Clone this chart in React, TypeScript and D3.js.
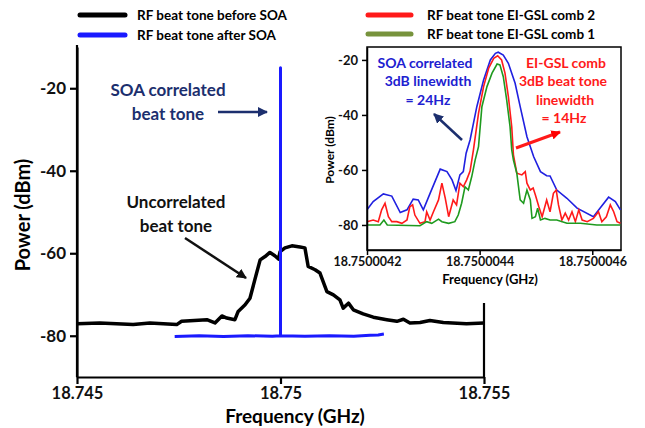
import React, { useEffect, useRef } from "react";
import * as d3 from "d3";

// main plot: frequency in GHz, power in dBm
const mainXTicks = [18.745, 18.75, 18.755];
const mainYTicks = [-20, -40, -60, -80];
const beforeSOA: [number, number][] = [
  [18.745, -77.1], [18.74556, -76.9], [18.74638, -77.3], [18.74679, -76.9],
  [18.74745, -77.3], [18.74757, -76.5], [18.74819, -76.1], [18.74839, -76.9],
  [18.74856, -75.2], [18.74868, -75.7], [18.74888, -76.1], [18.74896, -74.1],
  [18.74913, -72.5], [18.74925, -70.9], [18.74937, -66.4], [18.7495, -61.6],
  [18.74962, -60.8], [18.74974, -59.8], [18.74986, -60.6], [18.74995, -61.4],
  [18.74999, -59.6], [18.75011, -58.7], [18.75028, -58.2], [18.75048, -58.5],
  [18.7506, -58.7], [18.75068, -63.2], [18.75085, -64.0], [18.75097, -64.8],
  [18.75114, -69.3], [18.7513, -70.1], [18.75146, -71.3], [18.75154, -73.3],
  [18.75167, -72.1], [18.75179, -73.7], [18.75203, -74.7], [18.75228, -75.5],
  [18.75261, -76.1], [18.75286, -76.5], [18.75302, -76.0], [18.75318, -76.9],
  [18.75343, -76.8], [18.75367, -76.3], [18.754, -76.8], [18.75457, -77.1],
  [18.755, -76.9],
];
const afterSOA: [number, number][] = [
  [18.7474, -80.2], [18.7480, -80.0], [18.7486, -80.2], [18.7492, -80.0],
  [18.7498, -80.1], [18.75, -80.0], [18.75, -15], [18.75, -80.0],
  [18.7506, -80.1], [18.7512, -80.0], [18.7518, -80.1], [18.7522, -79.9],
  [18.7524, -79.8], [18.75254, -79.6],
];

// inset: offset from 18.75 GHz in Hz, power in dBm
const insetXTicks = [4200, 4400, 4600];
const insetYTicks = [-20, -40, -60, -80];
const soaCorrelated: [number, number][] = [
  [4200, -74.5], [4211, -71.5], [4229, -68.7], [4244, -69.5], [4259, -75.5],
  [4271, -74.5], [4282, -70.6], [4291, -70.9], [4300, -74.5], [4312, -68.5],
  [4330, -59.7], [4342, -60.6], [4351, -63.6], [4358, -67.5], [4365, -61.8],
  [4371, -60.6], [4376, -53.9], [4383, -49.1], [4395, -37.0], [4407, -27.3],
  [4419, -20.0], [4428, -17.6], [4433, -17.2], [4442, -18.2], [4451, -21.2],
  [4463, -28.5], [4472, -37.0], [4484, -47.9], [4496, -55.2], [4508, -60.6],
  [4519, -62.1], [4525, -62.2], [4537, -67.3], [4555, -70.3], [4573, -73.9],
  [4602, -77.0], [4614, -73.8], [4629, -69.9], [4641, -71.5], [4650, -74.5],
];
const comb2: [number, number][] = [
  [4200, -78.8], [4211, -78.2], [4220, -78.8], [4226, -74.5], [4232, -72.1],
  [4238, -77.0], [4244, -78.8], [4253, -78.8], [4262, -79.4], [4271, -78.2],
  [4276, -73.4], [4281, -72.7], [4285, -76.4], [4294, -79.4], [4303, -78.8],
  [4306, -75.2], [4312, -78.2], [4318, -75.2], [4327, -70.9], [4333, -64.8],
  [4339, -70.3], [4345, -77.0], [4353, -70.9], [4359, -72.7], [4365, -64.8],
  [4371, -66.1], [4377, -63.6], [4383, -60.4], [4389, -52.7], [4398, -39.4],
  [4407, -29.7], [4416, -23.0], [4425, -19.4], [4432, -18.5], [4439, -20.0],
  [4445, -24.8], [4451, -33.3], [4457, -44.3], [4460, -54.5], [4466, -61.2],
  [4475, -61.8], [4481, -60.6], [4484, -64.8], [4490, -67.3], [4495, -66.6],
  [4499, -69.1], [4505, -73.3], [4511, -77.0], [4519, -70.9], [4525, -75.2],
  [4531, -68.5], [4536, -67.3], [4540, -72.7], [4546, -78.2], [4552, -75.7],
  [4558, -78.2], [4564, -75.2], [4570, -78.8], [4576, -74.5], [4582, -78.2],
  [4591, -78.8], [4602, -77.6], [4611, -75.2], [4617, -78.8], [4625, -77.0],
  [4632, -72.7], [4638, -75.2], [4644, -78.8], [4650, -79.4],
];
const comb1: [number, number][] = [
  [4200, -80.0], [4223, -80.0], [4230, -78.2], [4236, -80.0], [4294, -80.3],
  [4306, -78.8], [4315, -79.4], [4327, -77.9], [4333, -78.8], [4345, -79.4],
  [4356, -78.8], [4362, -76.4], [4368, -72.1], [4374, -66.1], [4380, -67.3],
  [4386, -62.4], [4392, -56.4], [4398, -51.5], [4404, -37.0], [4413, -29.7],
  [4422, -24.8], [4431, -21.5], [4436, -21.8], [4442, -26.1], [4448, -34.5],
  [4454, -44.3], [4457, -52.7], [4460, -56.4], [4466, -61.2], [4472, -70.9],
  [4478, -72.1], [4484, -67.3], [4490, -70.9], [4493, -77.6], [4499, -77.0],
  [4503, -73.9], [4508, -78.2], [4516, -77.6], [4525, -78.2], [4537, -78.2],
  [4555, -79.4], [4579, -79.4], [4608, -80.0], [4650, -80.0],
];

const FONT = "Lato, 'Open Sans', sans-serif";

export default function App() {
  const mainX = d3.scaleLinear().domain([18.745, 18.755]).range([77, 484]);
  const mainY = d3.scaleLinear().domain([-90, -10]).range([377, 47]);
  const inX = d3.scaleLinear().domain([4200, 4651]).range([367, 621]);
  const inY = d3.scaleLinear().domain([-89.1, -15.3]).range([250, 47]);

  const mainLine = d3.line<[number, number]>().x(d => mainX(d[0])).y(d => mainY(d[1]));
  const inLine = d3.line<[number, number]>().x(d => inX(d[0])).y(d => inY(d[1]));

  const xAxisRef = useRef<SVGGElement>(null);
  const yAxisRef = useRef<SVGGElement>(null);
  const inXAxisRef = useRef<SVGGElement>(null);
  const inYAxisRef = useRef<SVGGElement>(null);

  useEffect(() => {
    const style = (g: any, size: number, sw: number) => {
      g.selectAll("path").attr("stroke", "#000").attr("stroke-width", sw);
      g.selectAll("line").attr("stroke", "#000").attr("stroke-width", sw);
      g.selectAll("text")
        .attr("font-family", FONT)
        .attr("font-weight", "bold")
        .attr("font-size", size)
        .attr("fill", "#111");
    };
    const gx = d3.select(xAxisRef.current!);
    gx.call(d3.axisBottom(mainX).tickValues(mainXTicks).tickSize(7).tickSizeOuter(0).tickPadding(3).tickFormat(d => String(d)) as any);
    style(gx, 16.5, 2.2);
    const gy = d3.select(yAxisRef.current!);
    gy.call(d3.axisLeft(mainY).tickValues(mainYTicks).tickSize(7).tickSizeOuter(0).tickPadding(4).tickFormat(d => String(d)) as any);
    style(gy, 17, 2.2);
    const ix = d3.select(inXAxisRef.current!);
    ix.call(d3.axisBottom(inX).tickValues(insetXTicks).tickSize(5).tickSizeOuter(0).tickPadding(2)
      .tickFormat(d => (18.75 + (d as number) * 1e-9).toFixed(7)) as any);
    style(ix, 12.5, 1.5);
    const iy = d3.select(inYAxisRef.current!);
    iy.call(d3.axisLeft(inY).tickValues(insetYTicks).tickSize(5).tickSizeOuter(0).tickPadding(4).tickFormat(d => String(d)) as any);
    style(iy, 13, 1.5);
  }, []);

  const bold = { fontFamily: FONT, fontWeight: 700 } as const;

  return (
    <div style={{ position: "absolute", left: 0, top: 0 }}>
      <svg width={645} height={428} style={{ display: "block", background: "#fff" }}>
        <defs>
          <marker id="headNavy" viewBox="0 0 10 10" refX="9" refY="5" markerWidth="4" markerHeight="4" orient="auto">
            <path d="M0,0 L10,5 L0,10 z" fill="#1c2f6e" />
          </marker>
          <marker id="headBlack" viewBox="0 0 10 10" refX="9" refY="5" markerWidth="4" markerHeight="4" orient="auto">
            <path d="M0,0 L10,5 L0,10 z" fill="#111" />
          </marker>
          <marker id="headRed" viewBox="0 0 10 10" refX="9" refY="5" markerWidth="3.2" markerHeight="3.2" orient="auto">
            <path d="M0,0 L10,5 L0,10 z" fill="#f00" />
          </marker>
        </defs>

        {/* legends */}
        <line x1={80} x2={125} y1={15} y2={15} stroke="#000" strokeWidth={5} strokeLinecap="round" />
        <text x={137} y={20} fontSize={13.5} {...bold}>RF beat tone before SOA</text>
        <line x1={80} x2={125} y1={35} y2={35} stroke="#1a1aff" strokeWidth={5} strokeLinecap="round" />
        <text x={137} y={40} fontSize={13.5} {...bold}>RF beat tone after SOA</text>
        <line x1={368} x2={411} y1={15} y2={15} stroke="#ff1a1a" strokeWidth={5} strokeLinecap="round" />
        <text x={427} y={20} fontSize={13.5} {...bold}>RF beat tone EI-GSL comb 2</text>
        <line x1={368} x2={411} y1={34} y2={34} stroke="#77933c" strokeWidth={5} strokeLinecap="round" />
        <text x={427} y={39} fontSize={13.5} {...bold}>RF beat tone EI-GSL comb 1</text>

        {/* main plot */}
        <line x1={77} x2={77} y1={45} y2={377} stroke="#000" strokeWidth={2.2} />
        <line x1={484} x2={484} y1={303} y2={377} stroke="#000" strokeWidth={2.2} />
        <g ref={xAxisRef} transform="translate(0,377)" />
        <g ref={yAxisRef} transform="translate(77,0)" />
        <path d={mainLine(beforeSOA) || ""} fill="none" stroke="#000" strokeWidth={3.5} strokeLinejoin="round" />
        <path d={mainLine(afterSOA) || ""} fill="none" stroke="#1a1aff" strokeWidth={3} strokeLinejoin="round" />
        <text transform="translate(30,215) rotate(-90)" textAnchor="middle" fontSize={20} {...bold}>Power (dBm)</text>
        <text x={295} y={423} textAnchor="middle" fontSize={19} {...bold}>Frequency (GHz)</text>

        <text x={168} y={96} textAnchor="middle" fontSize={17} fill="#1c2f6e" {...bold}>SOA correlated</text>
        <text x={168} y={120} textAnchor="middle" fontSize={17} fill="#1c2f6e" {...bold}>beat tone</text>
        <line x1={218} x2={267} y1={112} y2={112} stroke="#1c2f6e" strokeWidth={2.5} markerEnd="url(#headNavy)" />
        <text x={176} y={208} textAnchor="middle" fontSize={17} fill="#111" {...bold}>Uncorrelated</text>
        <text x={176} y={232} textAnchor="middle" fontSize={17} fill="#111" {...bold}>beat tone</text>
        <line x1={185} x2={246} y1={238} y2={278} stroke="#111" strokeWidth={2.5} markerEnd="url(#headBlack)" />

        {/* inset */}
        <rect x={367} y={47} width={254} height={203} fill="#fff" stroke="#000" strokeWidth={1.5} />
        <path d={inLine(soaCorrelated) || ""} fill="none" stroke="#2020e0" strokeWidth={1.6} />
        <path d={inLine(comb2) || ""} fill="none" stroke="#ff1a1a" strokeWidth={1.6} />
        <path d={inLine(comb1) || ""} fill="none" stroke="#1e9a1e" strokeWidth={1.6} />
        <g ref={inXAxisRef} transform="translate(0,250)" />
        <g ref={inYAxisRef} transform="translate(367,0)" />
        <text transform="translate(334,150) rotate(-90)" textAnchor="middle" fontSize={12} {...bold}>Power (dBm)</text>
        <text x={490} y={284} textAnchor="middle" fontSize={13} {...bold}>Frequency (GHz)</text>

        <text x={425} y={68} textAnchor="middle" fontSize={14} fill="#2020d0" {...bold}>SOA correlated</text>
        <text x={428} y={86} textAnchor="middle" fontSize={14} fill="#2020d0" {...bold}>3dB linewidth</text>
        <text x={428} y={105} textAnchor="middle" fontSize={14} fill="#2020d0" {...bold}>= 24Hz</text>
        <line x1={462} x2={434} y1={140} y2={114} stroke="#1c2f6e" strokeWidth={2.5} markerEnd="url(#headNavy)" />
        <text x={566} y={68} textAnchor="middle" fontSize={14} fill="#ff1a1a" {...bold}>EI-GSL comb</text>
        <text x={563} y={86} textAnchor="middle" fontSize={14} fill="#ff1a1a" {...bold}>3dB beat tone</text>
        <text x={565} y={105} textAnchor="middle" fontSize={14} fill="#ff1a1a" {...bold}>linewidth</text>
        <text x={564} y={123} textAnchor="middle" fontSize={14} fill="#ff1a1a" {...bold}>= 14Hz</text>
        <line x1={516} x2={560} y1={148} y2={132} stroke="#ff1a1a" strokeWidth={3} markerEnd="url(#headRed)" />
      </svg>
    </div>
  );
}
